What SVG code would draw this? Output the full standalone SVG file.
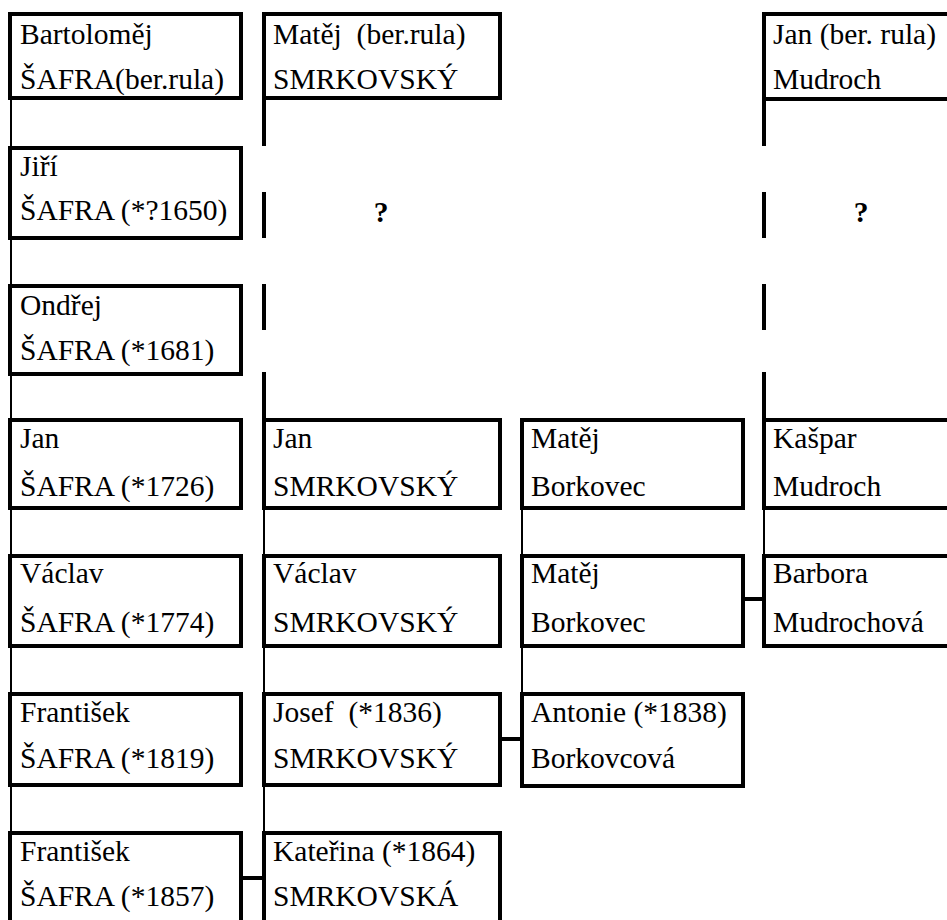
<svg xmlns="http://www.w3.org/2000/svg" width="947" height="920" viewBox="0 0 947 920">
<style>
.box{fill:#fff;stroke:#000;stroke-width:4}
.thin{stroke:#000;stroke-width:2;fill:none}
.thick{stroke:#000;stroke-width:4;fill:none}
text{font-family:'Liberation Serif','Times New Roman',serif;font-size:29.5px;fill:#000}
.q{font-weight:bold;text-anchor:middle}
</style>
<rect width="947" height="920" fill="#fff"/>
<g id="connectors">
<path class="thin" d="M11 98V148M11 238V286M11 374V420M11 508V556M11 646V694M11 785V833"/>
<path class="thick" d="M264 98V146M264 192V238M264 284V330M264 372V420"/>
<path class="thin" d="M264 508V556M264 646V694M264 785V833"/>
<path class="thin" d="M522 508V556M522 646V694"/>
<path class="thick" d="M764 99V146M764 192V238M764 284V330M764 372V420"/>
<path class="thin" d="M764 508V556"/>
<path class="thick" d="M743 599H764M500 739H522M241 878H264"/>
</g>
<g id="q1"><text class="q" x="381" y="222">?</text></g>
<g id="q2"><text class="q" x="861" y="222">?</text></g>
<g id="n_bartolomej"><rect class="box" x="10" y="14" width="231" height="84"/><text x="20" y="44">Bartoloměj</text><text x="20" y="89">ŠAFRA(ber.rula)</text></g>
<g id="n_matej_smrk"><rect class="box" x="264" y="14" width="236" height="84"/><text x="273" y="44">Matěj&#160; (ber.rula)</text><text x="273" y="89">SMRKOVSKÝ</text></g>
<g id="n_jan_mudroch"><rect class="box" x="764" y="14" width="200" height="85"/><text x="773" y="44">Jan (ber. rula)</text><text x="773" y="89">Mudroch</text></g>
<g id="n_jiri"><rect class="box" x="10" y="148" width="231" height="90"/><text x="20" y="176">Jiří</text><text x="20" y="220">ŠAFRA (*?1650)</text></g>
<g id="n_ondrej"><rect class="box" x="10" y="286" width="231" height="88"/><text x="20" y="315">Ondřej</text><text x="20" y="360">ŠAFRA (*1681)</text></g>
<g id="n_jan_safra"><rect class="box" x="10" y="420" width="231" height="88"/><text x="20" y="448">Jan</text><text x="20" y="496">ŠAFRA (*1726)</text></g>
<g id="n_jan_smrk"><rect class="box" x="264" y="420" width="236" height="88"/><text x="273" y="448">Jan</text><text x="273" y="496">SMRKOVSKÝ</text></g>
<g id="n_matej_bork1"><rect class="box" x="522" y="420" width="221" height="88"/><text x="531" y="448">Matěj</text><text x="531" y="496">Borkovec</text></g>
<g id="n_kaspar"><rect class="box" x="764" y="420" width="200" height="88"/><text x="773" y="448">Kašpar</text><text x="773" y="496">Mudroch</text></g>
<g id="n_vaclav_safra"><rect class="box" x="10" y="556" width="231" height="90"/><text x="20" y="583">Václav</text><text x="20" y="632">ŠAFRA (*1774)</text></g>
<g id="n_vaclav_smrk"><rect class="box" x="264" y="556" width="236" height="90"/><text x="273" y="583">Václav</text><text x="273" y="632">SMRKOVSKÝ</text></g>
<g id="n_matej_bork2"><rect class="box" x="522" y="556" width="221" height="90"/><text x="531" y="583">Matěj</text><text x="531" y="632">Borkovec</text></g>
<g id="n_barbora"><rect class="box" x="764" y="556" width="200" height="90"/><text x="773" y="583">Barbora</text><text x="773" y="632">Mudrochová</text></g>
<g id="n_frantisek1"><rect class="box" x="10" y="694" width="231" height="91"/><text x="20" y="722">František</text><text x="20" y="768">ŠAFRA (*1819)</text></g>
<g id="n_josef"><rect class="box" x="264" y="694" width="236" height="91"/><text x="273" y="722">Josef&#160; (*1836)</text><text x="273" y="768">SMRKOVSKÝ</text></g>
<g id="n_antonie"><rect class="box" x="522" y="694" width="221" height="92"/><text x="531" y="722">Antonie (*1838)</text><text x="531" y="768">Borkovcová</text></g>
<g id="n_frantisek2"><rect class="box" x="10" y="833" width="231" height="100"/><text x="20" y="861">František</text><text x="20" y="906">ŠAFRA (*1857)</text></g>
<g id="n_katerina"><rect class="box" x="264" y="833" width="236" height="100"/><text x="273" y="861">Kateřina (*1864)</text><text x="273" y="906">SMRKOVSKÁ</text></g>
</svg>
